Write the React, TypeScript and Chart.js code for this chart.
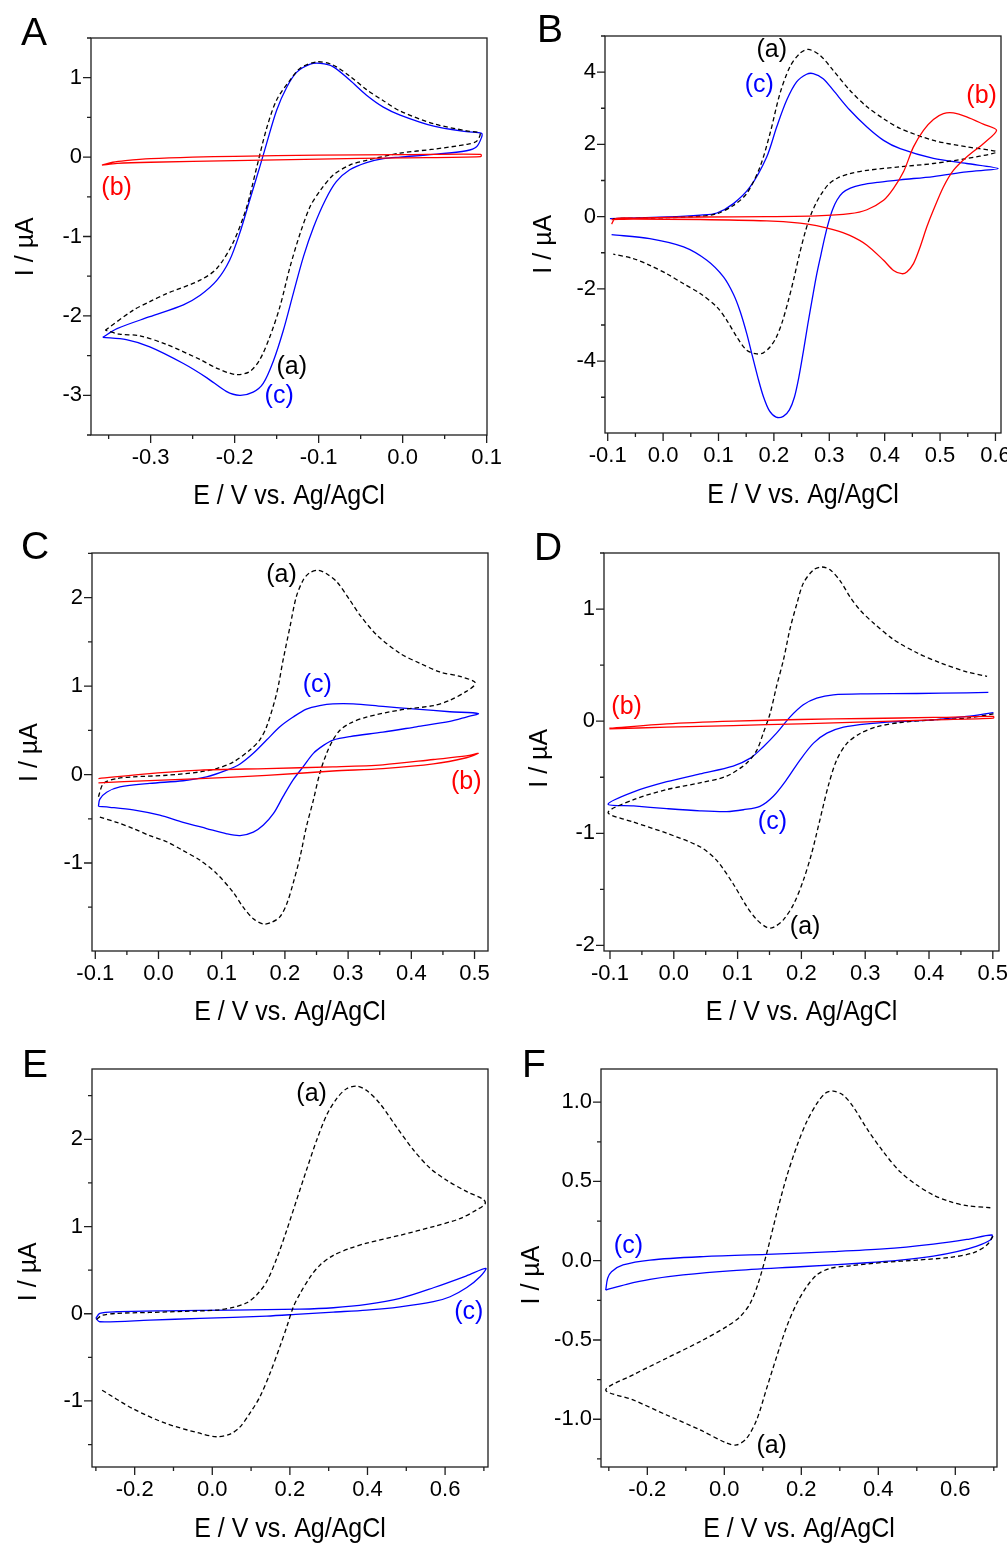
import React, { useEffect, useRef } from 'react';
import { Chart, registerables } from 'chart.js';

Chart.register(...registerables);

type Pt = [number, number];
type Lbl = { t: string; x: number; y: number; c: string };

// ---------------- Panel A ----------------
const A_xMajor = [-0.3, -0.2, -0.1, 0.0, 0.1];
const A_xMinor = [-0.35, -0.25, -0.15, -0.05, 0.05];
const A_yMajor = [-3, -2, -1, 0, 1];
const A_yMinor = [-3.5, -2.5, -1.5, -0.5, 0.5, 1.5];
const A_a: Pt[] = [
  [-0.354, -2.18], [-0.321, -1.93], [-0.301, -1.82], [-0.281, -1.72], [-0.241, -1.55], [-0.221, -1.40],
  [-0.202, -1.08], [-0.186, -0.64], [-0.174, -0.14], [-0.162, 0.36], [-0.150, 0.72], [-0.134, 0.97],
  [-0.122, 1.12], [-0.102, 1.20], [-0.083, 1.16], [-0.063, 1.02], [-0.043, 0.85], [-0.023, 0.71],
  [-0.003, 0.58], [0.037, 0.42], [0.076, 0.33], [0.092, 0.30],
  [0.088, 0.20], [0.076, 0.16], [0.037, 0.10], [-0.003, 0.05], [-0.043, -0.04], [-0.063, -0.10],
  [-0.083, -0.23], [-0.098, -0.42], [-0.110, -0.62], [-0.122, -0.96], [-0.134, -1.38], [-0.146, -1.88],
  [-0.158, -2.26], [-0.170, -2.55], [-0.182, -2.70], [-0.198, -2.74], [-0.221, -2.66], [-0.241, -2.55],
  [-0.281, -2.36], [-0.313, -2.25], [-0.337, -2.23], [-0.354, -2.18],
];
const A_b: Pt[] = [
  [-0.358, -0.10], [-0.345, -0.065], [-0.33, -0.045], [-0.3, -0.02], [-0.25, 0.0], [-0.2, 0.01],
  [-0.1, 0.025], [0.0, 0.03], [0.093, 0.035],
  [0.093, 0.005], [0.0, -0.01], [-0.1, -0.025], [-0.2, -0.045], [-0.3, -0.065], [-0.34, -0.08], [-0.358, -0.10],
];
const A_c: Pt[] = [
  [-0.357, -2.27], [-0.340, -2.16], [-0.301, -2.01], [-0.261, -1.86], [-0.241, -1.74], [-0.221, -1.55],
  [-0.206, -1.30], [-0.194, -0.96], [-0.182, -0.54], [-0.170, -0.12], [-0.162, 0.17], [-0.150, 0.59],
  [-0.138, 0.88], [-0.126, 1.07], [-0.110, 1.17], [-0.098, 1.18], [-0.083, 1.14], [-0.063, 0.97],
  [-0.043, 0.78], [-0.023, 0.63], [-0.003, 0.53], [0.037, 0.39], [0.076, 0.32], [0.094, 0.30],
  [0.094, 0.25], [0.088, 0.13], [0.076, 0.08], [0.037, 0.035], [-0.003, 0.0], [-0.023, -0.02],
  [-0.043, -0.07], [-0.063, -0.16], [-0.079, -0.31], [-0.092, -0.54], [-0.106, -0.88], [-0.118, -1.25],
  [-0.130, -1.71], [-0.142, -2.18], [-0.154, -2.57], [-0.166, -2.85], [-0.178, -2.96], [-0.194, -3.00],
  [-0.210, -2.95], [-0.233, -2.78], [-0.261, -2.60], [-0.301, -2.39], [-0.329, -2.30], [-0.357, -2.27],
];
const A_labels: Lbl[] = [
  { t: '(b)', x: -0.3405, y: -0.394, c: '#ff0000' },
  { t: '(a)', x: -0.132, y: -2.64, c: '#000000' },
  { t: '(c)', x: -0.147, y: -3.01, c: '#0000ff' },
];

// ---------------- Panel B ----------------
const B_xMajor = [-0.1, 0.0, 0.1, 0.2, 0.3, 0.4, 0.5, 0.6];
const B_xMinor = [-0.05, 0.05, 0.15, 0.25, 0.35, 0.45, 0.55];
const B_yMajor = [-4, -2, 0, 2, 4];
const B_yMinor = [-5, -3, -1, 1, 3, 5];
const B_a: Pt[] = [
  [-0.090, -0.055], [0.0065, -0.03], [0.067, 0.01], [0.097, 0.08], [0.127, 0.31], [0.151, 0.64],
  [0.175, 1.38], [0.193, 2.30], [0.211, 3.41], [0.229, 4.15], [0.247, 4.52], [0.262, 4.63],
  [0.283, 4.47], [0.307, 4.05], [0.337, 3.50], [0.368, 3.04], [0.398, 2.71], [0.428, 2.44],
  [0.488, 2.11], [0.548, 1.93], [0.602, 1.79],
  [0.548, 1.61], [0.488, 1.47], [0.428, 1.38], [0.368, 1.28], [0.337, 1.19], [0.315, 1.07],
  [0.299, 0.90], [0.287, 0.66], [0.277, 0.40], [0.267, 0.06], [0.257, -0.40], [0.246, -1.05],
  [0.236, -1.72], [0.226, -2.33], [0.215, -2.92], [0.204, -3.35], [0.193, -3.61], [0.181, -3.77],
  [0.169, -3.80], [0.151, -3.70], [0.133, -3.33], [0.115, -2.87], [0.097, -2.50], [0.067, -2.13],
  [0.037, -1.86], [0.0065, -1.58], [-0.024, -1.35], [-0.054, -1.16], [-0.090, -1.04],
];
const B_b: Pt[] = [
  [-0.093, -0.21], [-0.087, -0.06], [-0.054, -0.04], [0.067, -0.01], [0.187, 0.0], [0.277, 0.02],
  [0.337, 0.08], [0.368, 0.19], [0.398, 0.45], [0.416, 0.78], [0.434, 1.24], [0.452, 1.93],
  [0.470, 2.39], [0.488, 2.69], [0.506, 2.85], [0.524, 2.87], [0.548, 2.76], [0.578, 2.56], [0.602, 2.39],
  [0.578, 2.02], [0.548, 1.65], [0.524, 1.28], [0.506, 0.82], [0.488, 0.18], [0.476, -0.29],
  [0.464, -0.84], [0.452, -1.30], [0.440, -1.53], [0.431, -1.58], [0.416, -1.49], [0.398, -1.21],
  [0.368, -0.79], [0.337, -0.52], [0.307, -0.36], [0.277, -0.25], [0.247, -0.18], [0.187, -0.12],
  [0.067, -0.08], [-0.054, -0.07], [-0.093, -0.08],
];
const B_c: Pt[] = [
  [-0.096, -0.055], [0.0065, -0.01], [0.067, 0.04], [0.097, 0.10], [0.127, 0.36], [0.157, 0.82],
  [0.187, 1.65], [0.205, 2.48], [0.223, 3.22], [0.241, 3.73], [0.259, 3.94], [0.271, 3.96],
  [0.289, 3.82], [0.307, 3.50], [0.337, 2.95], [0.368, 2.48], [0.398, 2.11], [0.428, 1.88],
  [0.488, 1.61], [0.548, 1.47], [0.605, 1.33],
  [0.548, 1.24], [0.488, 1.11], [0.428, 1.02], [0.388, 0.95], [0.358, 0.88], [0.338, 0.79],
  [0.324, 0.66], [0.314, 0.46], [0.306, 0.20], [0.299, -0.14], [0.292, -0.56], [0.285, -1.05],
  [0.277, -1.62], [0.269, -2.30], [0.261, -3.00], [0.253, -3.75], [0.245, -4.45], [0.237, -5.00],
  [0.228, -5.35], [0.217, -5.53], [0.204, -5.55], [0.192, -5.38], [0.181, -4.98], [0.171, -4.45],
  [0.161, -3.85], [0.151, -3.24], [0.139, -2.62], [0.127, -2.15], [0.109, -1.67], [0.079, -1.21],
  [0.037, -0.84], [-0.024, -0.61], [-0.093, -0.50],
];
const B_labels: Lbl[] = [
  { t: '(a)', x: 0.196, y: 4.61, c: '#000000' },
  { t: '(c)', x: 0.1735, y: 3.64, c: '#0000ff' },
  { t: '(b)', x: 0.575, y: 3.34, c: '#ff0000' },
];

// ---------------- Panel C ----------------
const C_xMajor = [-0.1, 0.0, 0.1, 0.2, 0.3, 0.4, 0.5];
const C_xMinor = [-0.05, 0.05, 0.15, 0.25, 0.35, 0.45];
const C_yMajor = [-1, 0, 1, 2];
const C_yMinor = [-1.5, -0.5, 0.5, 1.5, 2.5];
const C_a: Pt[] = [
  [-0.095, -0.25], [-0.087, -0.10], [-0.066, -0.045], [-0.040, -0.026], [0.013, -0.008], [0.066, 0.03],
  [0.092, 0.068], [0.118, 0.14], [0.145, 0.28], [0.160, 0.39], [0.171, 0.54], [0.187, 0.92],
  [0.197, 1.29], [0.208, 1.67], [0.218, 2.01], [0.229, 2.20], [0.239, 2.28], [0.253, 2.31],
  [0.266, 2.27], [0.282, 2.18], [0.303, 1.97], [0.319, 1.80], [0.345, 1.58], [0.382, 1.37],
  [0.413, 1.26], [0.445, 1.16], [0.477, 1.11], [0.500, 1.05],
  [0.500, 1.01], [0.487, 0.94], [0.461, 0.84], [0.435, 0.78], [0.382, 0.73], [0.329, 0.65],
  [0.303, 0.58], [0.287, 0.50], [0.276, 0.39], [0.266, 0.24], [0.255, 0.01], [0.245, -0.29],
  [0.234, -0.59], [0.224, -0.93], [0.213, -1.23], [0.203, -1.46], [0.192, -1.61], [0.179, -1.67],
  [0.166, -1.69], [0.150, -1.63], [0.134, -1.50], [0.118, -1.33], [0.092, -1.12], [0.066, -0.97],
  [0.039, -0.86], [0.013, -0.76], [-0.014, -0.69], [-0.040, -0.61], [-0.066, -0.54], [-0.094, -0.48],
];
const C_b: Pt[] = [
  [-0.095, -0.045], [-0.014, 0.01], [0.066, 0.05], [0.171, 0.068], [0.276, 0.087], [0.355, 0.11],
  [0.435, 0.17], [0.487, 0.21], [0.506, 0.24],
  [0.487, 0.19], [0.435, 0.12], [0.355, 0.068], [0.276, 0.04], [0.171, -0.01], [0.066, -0.045],
  [-0.014, -0.068], [-0.095, -0.094],
];
const C_c: Pt[] = [
  [-0.095, -0.36], [-0.093, -0.28], [-0.082, -0.20], [-0.061, -0.14], [-0.014, -0.10], [0.039, -0.07],
  [0.076, -0.026], [0.108, 0.05], [0.129, 0.12], [0.150, 0.24], [0.171, 0.39], [0.192, 0.54],
  [0.213, 0.65], [0.234, 0.74], [0.255, 0.78], [0.276, 0.80], [0.308, 0.80], [0.355, 0.77],
  [0.408, 0.74], [0.461, 0.71], [0.506, 0.69],
  [0.487, 0.65], [0.461, 0.60], [0.408, 0.54], [0.355, 0.48], [0.303, 0.43], [0.276, 0.39],
  [0.261, 0.33], [0.245, 0.24], [0.229, 0.09], [0.213, -0.06], [0.197, -0.25], [0.182, -0.44],
  [0.166, -0.57], [0.150, -0.65], [0.129, -0.69], [0.108, -0.67], [0.076, -0.61], [0.039, -0.54],
  [0.002, -0.46], [-0.040, -0.40], [-0.077, -0.37], [-0.095, -0.36],
];
const C_labels: Lbl[] = [
  { t: '(a)', x: 0.1947, y: 2.257, c: '#000000' },
  { t: '(c)', x: 0.2513, y: 1.011, c: '#0000ff' },
  { t: '(b)', x: 0.487, y: -0.083, c: '#ff0000' },
];

// ---------------- Panel D ----------------
const D_xMajor = [-0.1, 0.0, 0.1, 0.2, 0.3, 0.4, 0.5];
const D_xMinor = [-0.05, 0.05, 0.15, 0.25, 0.35, 0.45];
const D_yMajor = [-2, -1, 0, 1];
const D_yMinor = [-1.5, -0.5, 0.5, 1.5];
const D_a: Pt[] = [
  [0.501, 0.065], [0.459, 0.027], [0.407, 0.012], [0.355, -0.012], [0.318, -0.05], [0.292, -0.11],
  [0.271, -0.20], [0.255, -0.35], [0.242, -0.58], [0.229, -0.88], [0.216, -1.18], [0.203, -1.42],
  [0.188, -1.63], [0.172, -1.77], [0.156, -1.84], [0.146, -1.84], [0.130, -1.77], [0.114, -1.65],
  [0.093, -1.45], [0.067, -1.24], [0.041, -1.12], [-0.011, -1.0], [-0.063, -0.90], [-0.103, -0.815],
  [-0.063, -0.70], [-0.011, -0.61], [0.041, -0.55], [0.083, -0.49], [0.114, -0.375], [0.130, -0.26],
  [0.140, -0.11], [0.151, 0.07], [0.161, 0.31], [0.172, 0.55], [0.182, 0.82], [0.193, 1.05],
  [0.203, 1.23], [0.219, 1.35], [0.232, 1.375], [0.245, 1.35], [0.261, 1.25], [0.276, 1.11],
  [0.292, 0.99], [0.313, 0.875], [0.344, 0.73], [0.381, 0.61], [0.418, 0.52], [0.459, 0.44], [0.491, 0.40],
];
const D_b: Pt[] = [
  [-0.101, -0.063], [-0.011, -0.024], [0.093, 0.0], [0.198, 0.015], [0.303, 0.024], [0.407, 0.033], [0.501, 0.042],
  [0.501, 0.027], [0.407, 0.012], [0.303, -0.006], [0.198, -0.024], [0.093, -0.039], [-0.011, -0.054], [-0.101, -0.068],
];
const D_c: Pt[] = [
  [0.501, 0.077], [0.459, 0.042], [0.407, 0.012], [0.355, -0.003], [0.303, -0.024], [0.266, -0.054],
  [0.240, -0.107], [0.219, -0.196], [0.198, -0.345], [0.177, -0.52], [0.156, -0.67], [0.135, -0.76],
  [0.109, -0.79], [0.083, -0.807], [0.041, -0.80], [-0.011, -0.78], [-0.063, -0.756], [-0.103, -0.74],
  [-0.063, -0.63], [-0.011, -0.54], [0.041, -0.47], [0.093, -0.40], [0.120, -0.33], [0.140, -0.23],
  [0.161, -0.107], [0.182, 0.036], [0.203, 0.146], [0.224, 0.205], [0.250, 0.235], [0.303, 0.244],
  [0.381, 0.247], [0.459, 0.253], [0.493, 0.256],
];
const D_labels: Lbl[] = [
  { t: '(b)', x: -0.074, y: 0.125, c: '#ff0000' },
  { t: '(c)', x: 0.1546, y: -0.896, c: '#0000ff' },
  { t: '(a)', x: 0.2058, y: -1.833, c: '#000000' },
];

// ---------------- Panel E ----------------
const E_xMajor = [-0.2, 0.0, 0.2, 0.4, 0.6];
const E_xMinor = [-0.3, -0.1, 0.1, 0.3, 0.5, 0.7];
const E_yMajor = [-1, 0, 1, 2];
const E_yMinor = [-1.5, -0.5, 0.5, 1.5, 2.5];
const E_a: Pt[] = [
  [-0.298, -0.065], [-0.285, -0.02], [-0.247, 0.004], [-0.161, 0.015], [-0.075, 0.027], [0.011, 0.042],
  [0.054, 0.073], [0.089, 0.126], [0.114, 0.214], [0.140, 0.367], [0.166, 0.634], [0.192, 0.96],
  [0.217, 1.30], [0.243, 1.65], [0.269, 1.99], [0.295, 2.28], [0.321, 2.47], [0.346, 2.58],
  [0.372, 2.61], [0.398, 2.56], [0.432, 2.41], [0.475, 2.14], [0.518, 1.88], [0.561, 1.67],
  [0.604, 1.53], [0.656, 1.40], [0.699, 1.31],
  [0.703, 1.26], [0.681, 1.19], [0.638, 1.09], [0.570, 1.0], [0.484, 0.90], [0.398, 0.81],
  [0.355, 0.75], [0.312, 0.67], [0.278, 0.56], [0.252, 0.42], [0.226, 0.23], [0.209, 0.08],
  [0.192, -0.15], [0.174, -0.38], [0.149, -0.68], [0.123, -0.95], [0.097, -1.14], [0.071, -1.30],
  [0.046, -1.38], [0.011, -1.41], [-0.032, -1.37], [-0.118, -1.26], [-0.204, -1.09], [-0.290, -0.86],
];
const E_c: Pt[] = [
  [-0.300, -0.053], [-0.290, 0.004], [-0.247, 0.023], [-0.118, 0.034], [0.054, 0.042], [0.226, 0.053],
  [0.312, 0.069], [0.398, 0.107], [0.484, 0.176], [0.570, 0.298], [0.656, 0.436], [0.705, 0.52],
  [0.690, 0.424], [0.656, 0.30], [0.613, 0.195], [0.570, 0.138], [0.484, 0.08], [0.398, 0.042],
  [0.312, 0.019], [0.226, -0.004], [0.140, -0.027], [-0.032, -0.053], [-0.161, -0.073], [-0.290, -0.092],
  [-0.300, -0.053],
];
const E_labels: Lbl[] = [
  { t: '(a)', x: 0.256, y: 2.518, c: '#000000' },
  { t: '(c)', x: 0.661, y: 0.023, c: '#0000ff' },
];

// ---------------- Panel F ----------------
const F_xMajor = [-0.2, 0.0, 0.2, 0.4, 0.6];
const F_xMinor = [-0.3, -0.1, 0.1, 0.3, 0.5, 0.7];
const F_yMajor = [-1.0, -0.5, 0.0, 0.5, 1.0];
const F_yMinor = [-1.25, -0.75, -0.25, 0.25, 0.75];
const F_a: Pt[] = [
  [0.698, 0.155], [0.682, 0.099], [0.647, 0.05], [0.587, 0.021], [0.500, 0.004], [0.413, -0.011],
  [0.327, -0.032], [0.275, -0.048], [0.240, -0.09], [0.214, -0.164], [0.188, -0.27], [0.162, -0.416],
  [0.136, -0.605], [0.110, -0.805], [0.084, -1.004], [0.058, -1.12], [0.032, -1.162], [0.006, -1.15],
  [-0.063, -1.067], [-0.150, -0.973], [-0.237, -0.878], [-0.308, -0.815],
  [-0.237, -0.72], [-0.150, -0.615], [-0.063, -0.51], [0.006, -0.416], [0.041, -0.353], [0.067, -0.27],
  [0.088, -0.143], [0.110, 0.046], [0.136, 0.298], [0.162, 0.53], [0.188, 0.72], [0.214, 0.876],
  [0.240, 0.99], [0.262, 1.055], [0.283, 1.07], [0.309, 1.044], [0.335, 0.97], [0.370, 0.834],
  [0.413, 0.687], [0.457, 0.56], [0.500, 0.477], [0.543, 0.414], [0.587, 0.372], [0.630, 0.347], [0.691, 0.334],
];
const F_c: Pt[] = [
  [-0.308, -0.185], [-0.303, -0.111], [-0.293, -0.069], [-0.263, -0.027], [-0.193, 0.004], [-0.063, 0.025],
  [0.110, 0.040], [0.283, 0.057], [0.413, 0.074], [0.543, 0.105], [0.630, 0.134], [0.695, 0.162],
  [0.691, 0.13], [0.656, 0.092], [0.604, 0.057], [0.543, 0.029], [0.457, 0.004], [0.370, -0.013],
  [0.197, -0.038], [0.023, -0.063], [-0.107, -0.09], [-0.193, -0.118], [-0.254, -0.149], [-0.308, -0.185],
];
const F_labels: Lbl[] = [
  { t: '(c)', x: -0.249, y: 0.0945, c: '#0000ff' },
  { t: '(a)', x: 0.123, y: -1.172, c: '#000000' },
];

// ---------------- Shared text ----------------
const X_TITLE = 'E / V vs. Ag/AgCl';
const Y_TITLE = 'I / \u00B5A';
const FONT = "'Liberation Sans', Arial, Helvetica, sans-serif";
const BLACK = '#000000';
const RED = '#ff0000';
const BLUE = '#0000ff';

type Series = { pts: Pt[]; color: string; dash?: boolean };
type PanelCfg = {
  letter: string;
  canvas: { x: number; y: number; w: number; h: number };
  area: { L: number; R: number; T: number; B: number };
  xMin: number; xMax: number; yMin: number; yMax: number;
  xDec: number; yDec: number;
  xMajor: number[]; xMinor: number[]; yMajor: number[]; yMinor: number[];
  series: Series[];
  labels: Lbl[];
  letterPos: [number, number];
  xTitleY: number;
  yTitleX: number;
  yTitleY: number;
};

const PANELS: PanelCfg[] = [
  {
    letter: 'A', canvas: { x: 0, y: 0, w: 503, h: 515 }, area: { L: 91, R: 487, T: 38, B: 435 },
    xMin: -0.371, xMax: 0.1004, yMin: -3.5, yMax: 1.5, xDec: 1, yDec: 0,
    xMajor: A_xMajor, xMinor: A_xMinor, yMajor: A_yMajor, yMinor: A_yMinor,
    series: [{ pts: A_b, color: RED }, { pts: A_a, color: BLACK, dash: true }, { pts: A_c, color: BLUE }],
    labels: A_labels, letterPos: [21, 45], xTitleY: 504, yTitleX: 33.2, yTitleY: 246.7,
  },
  {
    letter: 'B', canvas: { x: 503, y: 0, w: 504, h: 515 }, area: { L: 605, R: 1001, T: 36, B: 433 },
    xMin: -0.1049, xMax: 0.61, yMin: -5.99, yMax: 5.0, xDec: 1, yDec: 0,
    xMajor: B_xMajor, xMinor: B_xMinor, yMajor: B_yMajor, yMinor: B_yMinor,
    series: [{ pts: B_b, color: RED }, { pts: B_a, color: BLACK, dash: true }, { pts: B_c, color: BLUE }],
    labels: B_labels, letterPos: [537, 42], xTitleY: 503, yTitleX: 550.7, yTitleY: 244.2,
  },
  {
    letter: 'C', canvas: { x: 0, y: 515, w: 503, h: 525 }, area: { L: 92, R: 488, T: 553, B: 951 },
    xMin: -0.1052, xMax: 0.5213, yMin: -1.995, yMax: 2.505, xDec: 1, yDec: 0,
    xMajor: C_xMajor, xMinor: C_xMinor, yMajor: C_yMajor, yMinor: C_yMinor,
    series: [{ pts: C_b, color: RED }, { pts: C_a, color: BLACK, dash: true }, { pts: C_c, color: BLUE }],
    labels: C_labels, letterPos: [21, 559], xTitleY: 1020, yTitleX: 37.3, yTitleY: 752.5,
  },
  {
    letter: 'D', canvas: { x: 503, y: 515, w: 504, h: 525 }, area: { L: 604, R: 999, T: 553, B: 951 },
    xMin: -0.1094, xMax: 0.5097, yMin: -2.05, yMax: 1.5, xDec: 1, yDec: 0,
    xMajor: D_xMajor, xMinor: D_xMinor, yMajor: D_yMajor, yMinor: D_yMinor,
    series: [{ pts: D_b, color: RED }, { pts: D_a, color: BLACK, dash: true }, { pts: D_c, color: BLUE }],
    labels: D_labels, letterPos: [534, 560], xTitleY: 1020, yTitleX: 547.3, yTitleY: 758.3,
  },
  {
    letter: 'E', canvas: { x: 0, y: 1040, w: 503, h: 504 }, area: { L: 92, R: 488, T: 1069, B: 1467 },
    xMin: -0.310, xMax: 0.7106, yMin: -1.757, yMax: 2.806, xDec: 1, yDec: 0,
    xMajor: E_xMajor, xMinor: E_xMinor, yMajor: E_yMajor, yMinor: E_yMinor,
    series: [{ pts: E_a, color: BLACK, dash: true }, { pts: E_c, color: BLUE }],
    labels: E_labels, letterPos: [22, 1077], xTitleY: 1537, yTitleX: 35.7, yTitleY: 1271.7,
  },
  {
    letter: 'F', canvas: { x: 503, y: 1040, w: 504, h: 504 }, area: { L: 601, R: 997, T: 1069, B: 1467 },
    xMin: -0.3203, xMax: 0.7083, yMin: -1.301, yMax: 1.209, xDec: 1, yDec: 1,
    xMajor: F_xMajor, xMinor: F_xMinor, yMajor: F_yMajor, yMinor: F_yMinor,
    series: [{ pts: F_a, color: BLACK, dash: true }, { pts: F_c, color: BLUE }],
    labels: F_labels, letterPos: [522, 1077], xTitleY: 1537, yTitleX: 538.7, yTitleY: 1275,
  },
];

const isIn = (list: number[], v: number) => list.some((m) => Math.abs(m - v) < 1e-9);

const decorPlugin = {
  id: 'panelDecor',
  afterDraw(chart: any, _args: any, opts: any) {
    const p: PanelCfg = opts.panel;
    if (!p) return;
    const ctx: CanvasRenderingContext2D = chart.ctx;
    const { left, right, top, bottom } = chart.chartArea;
    const xs = chart.scales.x;
    const ys = chart.scales.y;
    const ox = p.canvas.x;
    const oy = p.canvas.y;
    ctx.save();
    // frame
    ctx.strokeStyle = '#1e1e1e';
    ctx.lineWidth = 1.3;
    ctx.setLineDash([]);
    ctx.strokeRect(left, top, right - left, bottom - top);
    // ticks
    ctx.beginPath();
    for (const v of [...p.xMajor, ...p.xMinor]) {
      const px = xs.getPixelForValue(v);
      if (px < left - 1 || px > right + 1) continue;
      const len = isIn(p.xMajor, v) ? 8 : 4;
      ctx.moveTo(px, bottom);
      ctx.lineTo(px, bottom + len);
    }
    for (const v of [...p.yMajor, ...p.yMinor]) {
      const py = ys.getPixelForValue(v);
      if (py < top - 1 || py > bottom + 1) continue;
      const len = isIn(p.yMajor, v) ? 8 : 4;
      ctx.moveTo(left, py);
      ctx.lineTo(left - len, py);
    }
    ctx.stroke();

    // panel letter
    ctx.fillStyle = '#000';
    ctx.font = `39px ${FONT}`;
    ctx.textAlign = 'left';
    ctx.textBaseline = 'alphabetic';
    ctx.fillText(p.letter, p.letterPos[0] - ox, p.letterPos[1] - oy);

    // x title
    ctx.save();
    ctx.font = `25px ${FONT}`;
    ctx.textAlign = 'center';
    ctx.translate((left + right) / 2, p.xTitleY - oy);
    ctx.scale(1, 1.1);
    ctx.fillText(X_TITLE, 0, 0);
    ctx.restore();

    // y title
    ctx.save();
    ctx.font = `25px ${FONT}`;
    ctx.textAlign = 'center';
    ctx.translate(p.yTitleX - ox, p.yTitleY - oy);
    ctx.rotate(-Math.PI / 2);
    ctx.fillText(Y_TITLE, 0, 0);
    ctx.restore();

    // curve labels
    ctx.font = `25px ${FONT}`;
    ctx.textAlign = 'center';
    ctx.textBaseline = 'middle';
    for (const l of p.labels) {
      ctx.fillStyle = l.c;
      ctx.fillText(l.t, xs.getPixelForValue(l.x), ys.getPixelForValue(l.y));
    }
    ctx.restore();
  },
};

function buildConfig(p: PanelCfg): any {
  const xTicks = [...p.xMajor, ...p.xMinor].sort((a, b) => a - b);
  const yTicks = [...p.yMajor, ...p.yMinor].sort((a, b) => a - b);
  const xAxisH = p.canvas.y + p.canvas.h - p.area.B;
  const yAxisW = p.area.L - p.canvas.x;
  return {
    type: 'scatter',
    data: {
      datasets: p.series.map((s) => ({
        data: s.pts.map(([x, y]) => ({ x, y })),
        showLine: true,
        borderColor: s.color,
        backgroundColor: s.color,
        borderWidth: 1.3,
        borderDash: s.dash ? [4.5, 3] : [],
        pointRadius: 0,
        pointHoverRadius: 0,
        tension: 0.3,
        fill: false,
      })),
    },
    options: {
      animation: false,
      responsive: false,
      maintainAspectRatio: false,
      events: [],
      layout: {
        padding: {
          left: 0,
          top: p.area.T - p.canvas.y,
          right: p.canvas.x + p.canvas.w - p.area.R,
          bottom: 0,
        },
      },
      plugins: {
        legend: { display: false },
        tooltip: { enabled: false },
        title: { display: false },
        panelDecor: { panel: p },
      },
      scales: {
        x: {
          type: 'linear',
          position: 'bottom',
          min: p.xMin,
          max: p.xMax,
          grid: { display: false, drawTicks: false },
          border: { display: false },
          ticks: {
            autoSkip: false,
            maxRotation: 0,
            minRotation: 0,
            padding: 10,
            color: '#000',
            font: { family: FONT, size: 22 },
            callback: (v: number) => (isIn(p.xMajor, v) ? Number(v).toFixed(p.xDec) : ''),
          },
          afterBuildTicks: (s: any) => {
            s.ticks = xTicks.map((value) => ({ value }));
          },
          afterFit: (s: any) => {
            s.height = xAxisH;
            s.paddingLeft = 0;
            s.paddingRight = 0;
          },
        },
        y: {
          type: 'linear',
          position: 'left',
          min: p.yMin,
          max: p.yMax,
          grid: { display: false, drawTicks: false },
          border: { display: false },
          ticks: {
            autoSkip: false,
            padding: 9,
            color: '#000',
            font: { family: FONT, size: 22 },
            callback: (v: number) => (isIn(p.yMajor, v) ? Number(v).toFixed(p.yDec) : ''),
          },
          afterBuildTicks: (s: any) => {
            s.ticks = yTicks.map((value) => ({ value }));
          },
          afterFit: (s: any) => {
            s.width = yAxisW;
            s.paddingTop = 0;
            s.paddingBottom = 0;
          },
        },
      },
    },
    plugins: [decorPlugin],
  };
}

function Panel({ p }: { p: PanelCfg }) {
  const ref = useRef<HTMLCanvasElement>(null);
  useEffect(() => {
    if (!ref.current) return;
    const chart = new Chart(ref.current, buildConfig(p));
    return () => chart.destroy();
  }, [p]);
  return (
    <canvas
      ref={ref}
      width={p.canvas.w}
      height={p.canvas.h}
      style={{ position: 'absolute', left: p.canvas.x, top: p.canvas.y, width: p.canvas.w, height: p.canvas.h }}
    />
  );
}

export default function App() {
  return (
    <div
      style={{
        position: 'absolute',
        left: 0,
        top: 0,
        width: 1007,
        height: 1544,
        background: '#ffffff',
        overflow: 'hidden',
      }}
    >
      {PANELS.map((p) => (
        <Panel key={p.letter} p={p} />
      ))}
    </div>
  );
}
